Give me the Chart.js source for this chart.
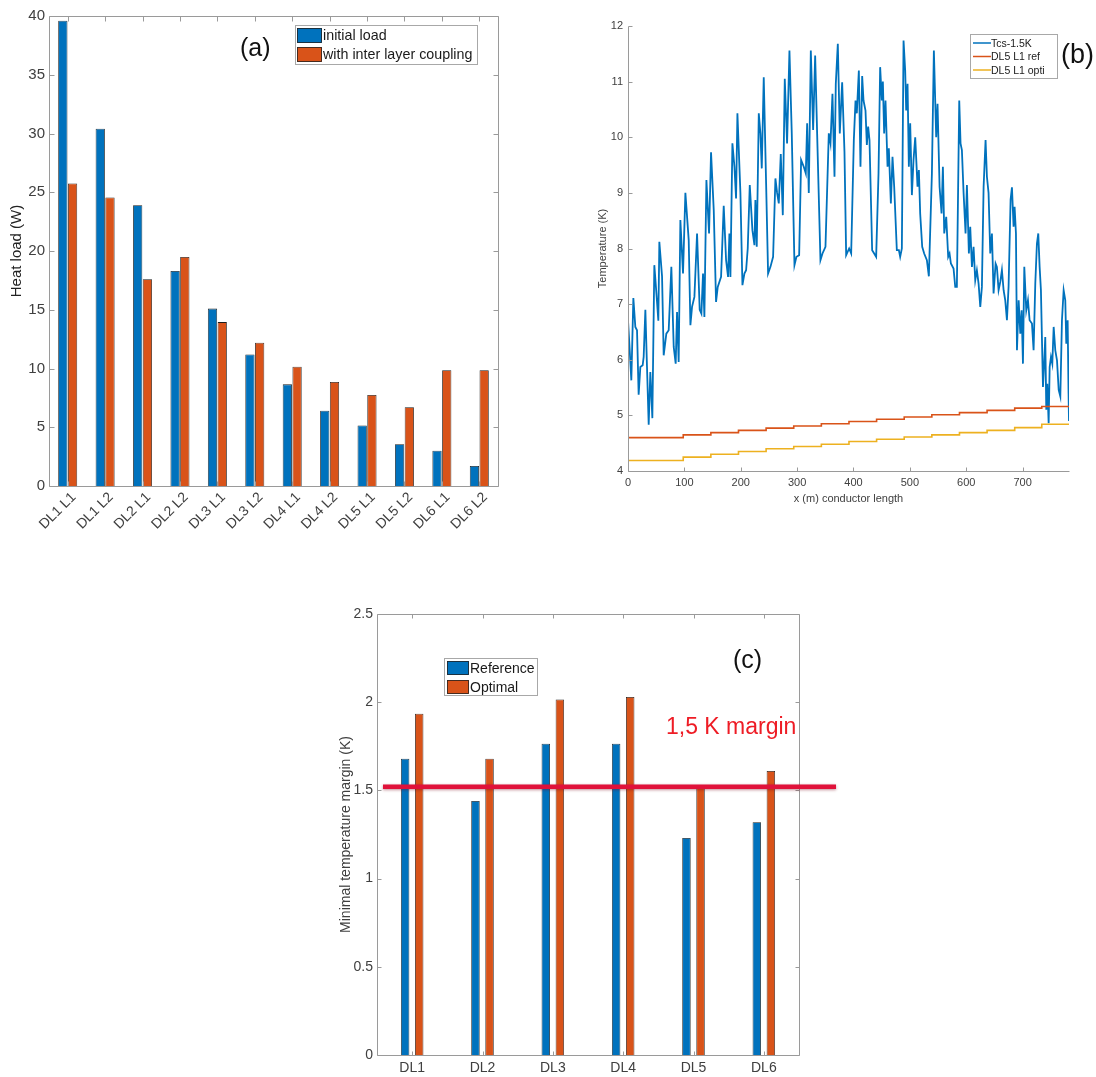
<!DOCTYPE html>
<html>
<head>
<meta charset="utf-8">
<script src="https://cdn.jsdelivr.net/npm/chart.js@4.4.1/dist/chart.umd.min.js"></script>
<style>
  body { margin: 0; background: #fff; width: 1096px; height: 1077px; position: relative; overflow: hidden; font-family: 'Liberation Sans', Arial, Helvetica, sans-serif; }
  canvas { position: absolute; }
  .note { position: absolute; white-space: nowrap; line-height: 1; color: #111; }
</style>
</head>
<body>
<canvas id="heat" width="520" height="560" style="left:0;top:0"></canvas>
<canvas id="temp" width="536" height="540" style="left:560px;top:0"></canvas>
<canvas id="margin" width="540" height="507" style="left:320px;top:570px"></canvas>

<div class="note" style="left:240px;top:35px;font-size:25px">(a)</div>
<div class="note" style="left:1061px;top:41px;font-size:27px">(b)</div>
<div class="note" style="left:733px;top:647px;font-size:25px">(c)</div>
<div class="note" style="left:666px;top:715px;font-size:23px;color:#ee1c25">1,5 K margin</div>

<script>
// (a) heat load per double layer
const loadLabels = ['DL1 L1', 'DL1 L2', 'DL2 L1', 'DL2 L2', 'DL3 L1', 'DL3 L2', 'DL4 L1', 'DL4 L2', 'DL5 L1', 'DL5 L2', 'DL6 L1', 'DL6 L2'];
const initialLoad = [39.6, 30.4, 23.9, 18.3, 15.1, 11.2, 8.65, 6.4, 5.15, 3.55, 3.0, 1.7];
const couplingLoad = [25.75, 24.55, 17.6, 19.5, 13.95, 12.2, 10.15, 8.85, 7.75, 6.7, 9.85, 9.85];

// (b) temperature along the conductor
const tcsX = [0, 2.4, 5.9, 9.5, 13, 16, 18.9, 21.9, 26, 27.8, 30.8, 33.7, 36.7, 39.6, 43.2, 46.7, 51.5, 53.8, 55.6, 60.4,
  63.3, 68, 72.2, 76.9, 81.1, 84.6, 87, 89.9, 92.9, 97.6, 101.8, 107.7, 110.7, 113.6, 117.8, 122.5, 127.2, 130.2, 133.1, 135.5,
  139.1, 143.8, 147.3, 152.1, 156.2, 159.2, 165.1, 169.8, 174, 177.5, 179.9, 181.7, 185.2, 188.8, 191.7, 194.1, 199.4, 203, 206.5, 209.5,
  212.4, 216, 220.7, 224.3, 226, 228.4, 232, 234.9, 237.3, 240.8, 245, 248.5, 252.7, 257.4, 261.5, 264.5, 267.5, 271, 274.6, 278.1,
  282.2, 286.4, 290.5, 295.3, 298.8, 303.6, 307.1, 311.8, 315.4, 317.8, 320.7, 324.3, 328.4, 332, 335.5, 341.4, 345, 350.3, 356.2, 359.2,
  362.7, 366.3, 368.6, 372.2, 375.7, 379.9, 384, 387, 392.3, 395.9, 400.6, 403.6, 405.9, 409.5, 412.4, 415.4, 417.8, 421.3, 423.7, 426,
  428.4, 433.1, 436.7, 440.2, 444.4, 447.3, 450.3, 452.1, 454.4, 456.8, 460.4, 462.7, 466.3, 469.2, 472.2, 476.9, 480.5, 482.8, 485.8, 488.8,
  491.7, 493.5, 495.9, 498.2, 500.6, 503.6, 506.5, 509.5, 513.6, 516, 518.3, 521.9, 525.4, 530.2, 533.7, 539.1, 542.6, 546.7, 549.1, 552.7,
  556.2, 558.6, 561, 564.5, 568, 570.4, 572.8, 577.5, 580.5, 583.4, 587.6, 589.9, 592.3, 595.3, 598.8, 601.2, 604.7, 607.1, 610.1, 613,
  616, 618.9, 621.9, 624.9, 627.8, 630.8, 634.3, 636.7, 639.6, 642.6, 645.6, 648.5, 652.1, 654.4, 657.4, 660.4, 663.3, 666.3, 669.2, 672.2,
  675.1, 678.7, 681.1, 684, 685.8, 688.2, 690, 693, 695.9, 698.3, 700.6, 703, 706.5, 709.5, 712.4, 716.6, 719.5, 722.5, 725.4, 727.8,
  730.2, 732.5, 736.1, 738.5, 740.2, 742, 743.8, 746.2, 748, 750.3, 752.7, 755.1, 758, 761, 764, 766.9, 769.8, 772.8, 775.7, 777.5,
  779.9, 781.5, 782.3];
const tcsT = [6.71, 6.29, 5.63, 7.11, 6.59, 6.53, 5.37, 5.87, 5.9, 6.05, 6.9, 5.87, 4.83, 5.78, 4.95, 7.7, 7.04, 6.7, 8.12, 7.5,
  6.08, 6.47, 6.53, 7.67, 6.23, 5.93, 6.86, 5.96, 8.51, 7.55, 9.0, 8.15, 6.62, 6.95, 7.13, 8.27, 6.9, 6.83, 7.55, 6.77,
  9.23, 8.27, 9.73, 8.69, 7.04, 7.31, 7.49, 8.77, 7.79, 7.49, 8.27, 7.49, 9.89, 9.47, 8.9, 10.43, 9.0, 7.34, 7.55, 7.61,
  8.0, 9.14, 8.33, 8.06, 8.87, 8.03, 10.43, 10.07, 9.44, 11.08, 9.17, 7.55, 7.67, 7.85, 9.26, 9.0, 8.81, 9.7, 8.6, 11.05,
  9.89, 11.56, 10.07, 7.7, 7.85, 7.88, 9.59, 9.47, 9.35, 10.25, 9.0, 11.56, 10.13, 11.47, 10.07, 7.79, 7.91, 8.03, 10.07, 9.89,
  10.78, 9.29, 10.96, 11.68, 10.07, 10.99, 9.74, 7.88, 8.0, 7.91, 9.95, 10.66, 10.43, 11.2, 9.47, 11.1, 10.66, 10.48, 9.86, 10.19,
  9.95, 7.97, 7.91, 7.85, 9.35, 11.26, 10.66, 11.0, 10.07, 10.66, 9.47, 9.8, 8.81, 9.65, 9.11, 7.97, 7.97, 7.85, 8.0, 11.74,
  11.2, 10.48, 10.96, 9.47, 10.25, 8.96, 9.59, 10.0, 9.11, 9.41, 8.63, 8.03, 7.91, 7.79, 7.5, 9.35, 11.56, 10.0, 10.6, 9.11,
  8.63, 9.47, 8.27, 8.57, 7.85, 7.91, 7.73, 7.64, 7.31, 7.31, 10.66, 9.89, 9.77, 9.0, 8.27, 9.14, 7.91, 8.39, 7.67, 8.03,
  7.43, 7.61, 7.37, 6.95, 7.31, 9.1, 9.95, 9.29, 9.0, 7.91, 8.27, 7.19, 7.73, 7.67, 7.25, 7.4, 7.61, 7.25, 7.07, 6.71,
  7.31, 8.88, 9.1, 8.39, 8.75, 8.27, 6.17, 7.07, 6.47, 6.89, 5.93, 7.67, 6.89, 7.07, 6.71, 6.65, 6.17, 7.37, 8.09, 8.27,
  7.67, 7.25, 5.51, 5.99, 6.41, 5.1, 5.57, 4.86, 5.87, 6.05, 5.93, 6.59, 6.17, 5.99, 5.46, 5.34, 6.71, 7.25, 7.07, 6.29,
  6.71, 5.4, 4.9];
const stepX = [0, 98, 147, 196, 245, 294, 343, 392, 441, 490, 539, 588, 637, 686, 734, 782.3];
const refT = [4.60, 4.65, 4.69, 4.73, 4.77, 4.81, 4.85, 4.89, 4.93, 4.97, 5.01, 5.05, 5.09, 5.13, 5.16, 5.16];
const optiT = [4.19, 4.25, 4.30, 4.35, 4.40, 4.44, 4.48, 4.53, 4.57, 4.61, 4.65, 4.69, 4.73, 4.78, 4.84, 4.84];

// (c) minimal temperature margin
const marginLabels = ['DL1', 'DL2', 'DL3', 'DL4', 'DL5', 'DL6'];
const refMargin = [1.68, 1.44, 1.765, 1.765, 1.23, 1.32];
const optMargin = [1.935, 1.68, 2.015, 2.03, 1.52, 1.61];
const marginLevel = [1.52];

const BLUE = '#0072BD';
const ORANGE = '#D95319';
const YELLOW = '#EDB120';
const FONT = "'Liberation Sans', Arial, Helvetica, sans-serif";
const TXT = '#404040';

const toXY = (xs, ys) => xs.map((x, i) => ({x, y: ys[i]}));
const plainNum = (v) => String(+v.toFixed(2));

// matlab style box with inward ticks
const matlabAxes = {
  id: 'matlabAxes',
  afterDatasetsDraw(chart, args, opts) {
    const {ctx, chartArea: a} = chart;
    const x = chart.scales.x, y = chart.scales.y;
    const len = opts.tickLen || 5;
    ctx.save();
    ctx.strokeStyle = opts.color || '#9a9a9a';
    ctx.lineWidth = 1;
    ctx.beginPath();
    const L = Math.round(a.left) + 0.5, R = Math.round(a.right) + 0.5;
    const T = Math.round(a.top) + 0.5, B = Math.round(a.bottom) + 0.5;
    ctx.moveTo(L, T); ctx.lineTo(L, B); ctx.lineTo(R, B);
    if (opts.box) { ctx.lineTo(R, T); ctx.lineTo(L, T); }
    x.ticks.forEach((t, i) => {
      const px = Math.round(x.getPixelForTick(i)) + 0.5;
      ctx.moveTo(px, B); ctx.lineTo(px, B - len);
      if (opts.box) { ctx.moveTo(px, T); ctx.lineTo(px, T + len); }
    });
    y.ticks.forEach((t, i) => {
      const py = Math.round(y.getPixelForTick(i)) + 0.5;
      ctx.moveTo(L, py); ctx.lineTo(L + len, py);
      if (opts.box) { ctx.moveTo(R, py); ctx.lineTo(R - len, py); }
    });
    ctx.stroke();
    ctx.restore();
  }
};

// legend box drawn inside the axes
const boxLegend = {
  id: 'boxLegend',
  afterDraw(chart, args, o) {
    if (!o || !o.w) return;
    const ctx = chart.ctx;
    ctx.save();
    ctx.fillStyle = '#fff';
    ctx.fillRect(o.x, o.y, o.w, o.h);
    ctx.strokeStyle = '#a8a8a8';
    ctx.lineWidth = 1;
    ctx.strokeRect(o.x + 0.5, o.y + 0.5, o.w, o.h);
    ctx.font = o.font;
    ctx.textBaseline = 'middle';
    chart.data.datasets.forEach((ds, i) => {
      const cy = o.y + o.first + i * o.row;
      if (o.kind === 'line') {
        ctx.strokeStyle = ds.borderColor;
        ctx.lineWidth = 1.5;
        ctx.beginPath();
        ctx.moveTo(o.x + o.sx, cy); ctx.lineTo(o.x + o.sx + o.sw, cy);
        ctx.stroke();
      } else {
        ctx.fillStyle = ds.backgroundColor;
        ctx.fillRect(o.x + o.sx, cy - o.sh / 2, o.sw, o.sh);
        ctx.strokeStyle = '#222';
        ctx.lineWidth = 0.8;
        ctx.strokeRect(o.x + o.sx + 0.5, cy - o.sh / 2 + 0.5, o.sw - 1, o.sh - 1);
      }
      ctx.fillStyle = '#1a1a1a';
      ctx.fillText(ds.label, o.x + o.tx, cy + 1);
    });
    ctx.restore();
  }
};

// horizontal margin line for panel (c)
const marginLine = {
  id: 'marginLine',
  afterDatasetsDraw(chart, args, o) {
    if (!o || !o.values) return;
    const {ctx, chartArea: a} = chart;
    const y = chart.scales.y;
    ctx.save();
    ctx.strokeStyle = o.color;
    ctx.lineWidth = o.width;
    ctx.shadowColor = 'rgba(120,0,20,0.45)';
    ctx.shadowBlur = 3;
    ctx.shadowOffsetY = 1;
    o.values.forEach(v => {
      const py = y.getPixelForValue(v);
      ctx.beginPath();
      ctx.moveTo(a.left + o.startOff, py);
      ctx.lineTo(a.right + o.endOff, py);
      ctx.stroke();
    });
    ctx.restore();
  }
};

Chart.register(matlabAxes, boxLegend, marginLine);
Chart.defaults.font.family = FONT;
Chart.defaults.color = TXT;

const fixSize = (w, h) => (scale) => {
  if (w !== undefined) scale.width = w;
  if (h !== undefined) scale.height = h;
};
const noGrid = {display: false, drawTicks: false};

// ---------- (a)
new Chart(document.getElementById('heat'), {
  type: 'bar',
  data: {
    labels: loadLabels,
    datasets: [
      {label: 'initial load', data: initialLoad, backgroundColor: BLUE, borderColor: '#1c1c1c', borderWidth: 0.8, categoryPercentage: 0.52, barPercentage: 0.95},
      {label: 'with inter layer coupling', data: couplingLoad, backgroundColor: ORANGE, borderColor: '#1c1c1c', borderWidth: 0.8, categoryPercentage: 0.52, barPercentage: 0.95}
    ]
  },
  options: {
    responsive: false,
    animation: false,
    layout: {padding: {top: 16, right: 22, left: 0, bottom: 0}},
    plugins: {
      legend: {display: false},
      tooltip: {enabled: false},
      matlabAxes: {box: true, tickLen: 5},
      boxLegend: {x: 295, y: 25, w: 182, h: 39, kind: 'box', first: 10.5, row: 19, sx: 2, sw: 25, sh: 15, tx: 28, font: "14.3px " + FONT}
    },
    scales: {
      x: {
        grid: noGrid, border: {display: false},
        ticks: {font: {size: 14}, minRotation: 45, maxRotation: 45, padding: 3, labelOffset: 6, color: TXT},
        afterFit: fixSize(undefined, 74)
      },
      y: {
        min: 0, max: 40,
        grid: noGrid, border: {display: false},
        ticks: {stepSize: 5, font: {size: 15}, padding: 4, color: TXT},
        title: {display: true, text: 'Heat load (W)', font: {size: 15}, color: '#222', padding: {top: 8}},
        afterFit: fixSize(49)
      }
    }
  }
});

// ---------- (b)
new Chart(document.getElementById('temp'), {
  type: 'line',
  data: {
    datasets: [
      {label: 'Tcs-1.5K', data: toXY(tcsX, tcsT), borderColor: BLUE, backgroundColor: BLUE, borderWidth: 1.8, pointRadius: 0, tension: 0, order: 3},
      {label: 'DL5 L1 ref', data: toXY(stepX, refT), borderColor: ORANGE, backgroundColor: ORANGE, borderWidth: 1.6, pointRadius: 0, stepped: 'before', order: 2},
      {label: 'DL5 L1 opti', data: toXY(stepX, optiT), borderColor: YELLOW, backgroundColor: YELLOW, borderWidth: 1.6, pointRadius: 0, stepped: 'before', order: 1}
    ]
  },
  options: {
    responsive: false,
    animation: false,
    layout: {padding: {top: 26, right: 27, left: 0, bottom: 0}},
    plugins: {
      legend: {display: false},
      tooltip: {enabled: false},
      matlabAxes: {box: false, tickLen: 4},
      boxLegend: {x: 410, y: 34, w: 87, h: 44, kind: 'line', first: 9, row: 13.5, sx: 3, sw: 18, tx: 21, font: "10.5px " + FONT}
    },
    scales: {
      x: {
        type: 'linear', min: 0, max: 782.3,
        grid: noGrid, border: {display: false},
        ticks: {stepSize: 100, includeBounds: false, font: {size: 11}, padding: 5, color: TXT},
        title: {display: true, text: 'x (m) conductor length', font: {size: 11}, color: TXT, padding: {bottom: 34}},
        afterFit: fixSize(undefined, 69)
      },
      y: {
        min: 4, max: 12,
        grid: noGrid, border: {display: false},
        ticks: {stepSize: 1, font: {size: 11}, padding: 5, color: TXT},
        title: {display: true, text: 'Temperature (K)', font: {size: 11}, color: TXT, padding: {top: 36}},
        afterFit: fixSize(68)
      }
    }
  }
});

// ---------- (c)
new Chart(document.getElementById('margin'), {
  type: 'bar',
  data: {
    labels: marginLabels,
    datasets: [
      {label: 'Reference', data: refMargin, backgroundColor: BLUE, borderColor: '#1c1c1c', borderWidth: 0.8, categoryPercentage: 0.4, barPercentage: 0.6},
      {label: 'Optimal', data: optMargin, backgroundColor: ORANGE, borderColor: '#1c1c1c', borderWidth: 0.8, categoryPercentage: 0.4, barPercentage: 0.6}
    ]
  },
  options: {
    responsive: false,
    animation: false,
    layout: {padding: {top: 44, right: 61, left: 0, bottom: 0}},
    plugins: {
      legend: {display: false},
      tooltip: {enabled: false},
      matlabAxes: {box: true, tickLen: 4},
      marginLine: {values: marginLevel, color: '#e0123a', width: 4.5, startOff: 6, endOff: 37},
      boxLegend: {x: 124, y: 88, w: 93, h: 37, kind: 'box', first: 10, row: 19, sx: 3, sw: 22, sh: 14, tx: 26, font: "14px " + FONT}
    },
    scales: {
      x: {
        grid: noGrid, border: {display: false},
        ticks: {font: {size: 14}, padding: 5, color: TXT, maxRotation: 0},
        afterFit: fixSize(undefined, 22)
      },
      y: {
        min: 0, max: 2.5,
        grid: noGrid, border: {display: false},
        ticks: {stepSize: 0.5, font: {size: 14}, padding: 4, color: TXT, callback: plainNum},
        title: {display: true, text: 'Minimal temperature margin (K)', font: {size: 14}, color: TXT, padding: {top: 18}},
        afterFit: fixSize(57)
      }
    }
  }
});
</script>
</body>
</html>
